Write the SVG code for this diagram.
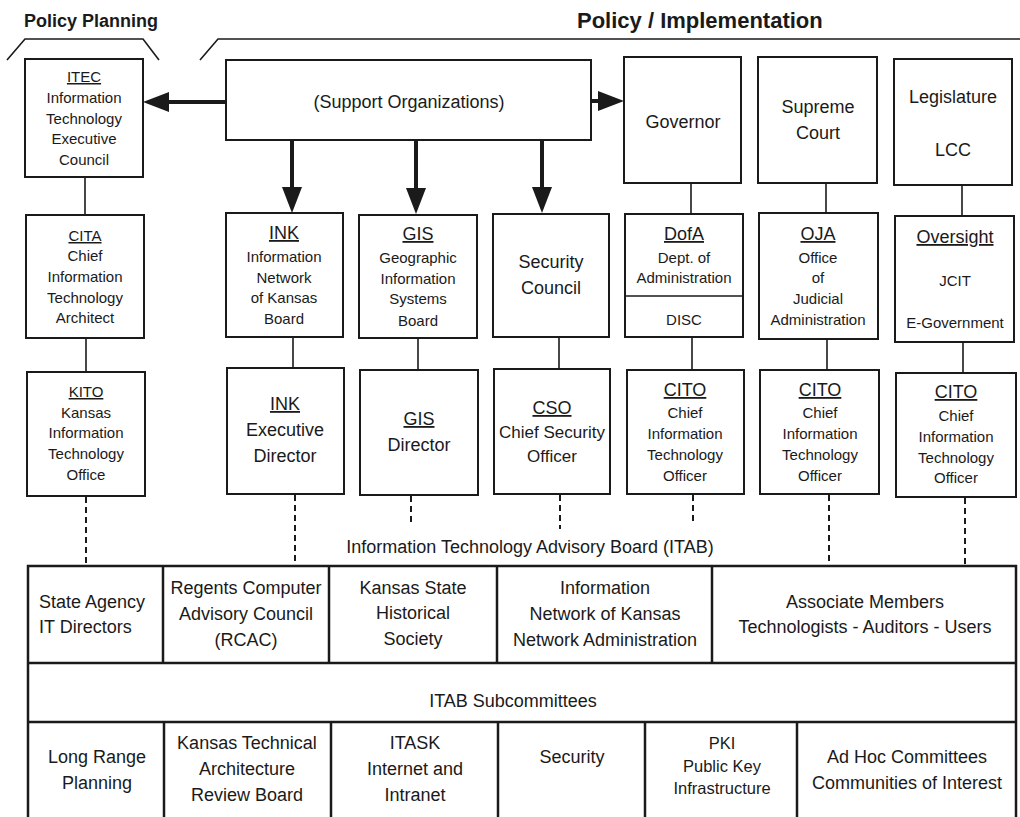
<svg xmlns="http://www.w3.org/2000/svg" width="1020" height="817" viewBox="0 0 1020 817">
<style>
text{font-family:"Liberation Sans",Arial,sans-serif;fill:#1a1a1a;text-anchor:middle;font-size:15px}
.b{font-size:18px}
.m{font-size:16.5px}
.h{font-weight:bold;text-anchor:start}
.u{text-decoration:underline}
.box{fill:#fff;stroke:#1a1a1a;stroke-width:2}
.ln{stroke:#1a1a1a;stroke-width:1.6;fill:none}
.dl{stroke:#1a1a1a;stroke-width:2;stroke-dasharray:6 4;fill:none}
.ar{stroke:#1a1a1a;stroke-width:4;fill:none}
.tb{fill:none;stroke:#1a1a1a;stroke-width:2.5}
</style>
<defs>
<marker id="ah" viewBox="0 0 26 20" refX="0" refY="10" markerWidth="26" markerHeight="20" markerUnits="userSpaceOnUse" orient="auto">
<path d="M0,0 L26,10 L0,20 z" fill="#1a1a1a"/>
</marker>
</defs>
<rect width="1020" height="817" fill="#fff"/>

<g id="headers">
<text class="h" x="24" y="27" style="font-size:18px">Policy Planning</text>
<text class="h" x="577" y="28" style="font-size:22px">Policy / Implementation</text>
<polyline class="ln" points="7,60 25,39 143,39 159,60"/>
<polyline class="ln" points="200,60 218,39 1020,39"/>
</g>

<g id="connectors">
<line class="ar" x1="226" y1="102" x2="169" y2="102" marker-end="url(#ah)"/>
<line class="ar" x1="591" y1="101" x2="598" y2="101" marker-end="url(#ah)"/>
<line class="ar" x1="292" y1="140" x2="292" y2="187" marker-end="url(#ah)"/>
<line class="ar" x1="416" y1="140" x2="416" y2="188" marker-end="url(#ah)"/>
<line class="ar" x1="542" y1="140" x2="542" y2="187" marker-end="url(#ah)"/>
<line class="ln" x1="85" y1="177" x2="85" y2="215"/>
<line class="ln" x1="86" y1="338" x2="86" y2="372"/>
<line class="ln" x1="293" y1="337" x2="293" y2="368"/>
<line class="ln" x1="418" y1="338" x2="418" y2="370"/>
<line class="ln" x1="559" y1="337" x2="559" y2="369"/>
<line class="ln" x1="691" y1="183" x2="691" y2="214"/>
<line class="ln" x1="692" y1="337" x2="692" y2="370"/>
<line class="ln" x1="826" y1="183" x2="826" y2="213"/>
<line class="ln" x1="827" y1="339" x2="827" y2="370"/>
<line class="ln" x1="962" y1="185" x2="962" y2="216"/>
<line class="ln" x1="963" y1="342" x2="963" y2="373"/>
<line class="dl" x1="86" y1="497" x2="86" y2="566"/>
<line class="dl" x1="295" y1="495" x2="295" y2="566"/>
<line class="dl" x1="411" y1="496" x2="411" y2="522"/>
<line class="dl" x1="560" y1="495" x2="560" y2="529"/>
<line class="dl" x1="693" y1="495" x2="693" y2="525"/>
<line class="dl" x1="829" y1="495" x2="829" y2="566"/>
<line class="dl" x1="965" y1="498" x2="965" y2="566"/>
</g>

<g id="itec">
<rect class="box" x="25" y="59" width="118" height="118"/>
<text x="84" y="82" class="u">ITEC</text>
<text x="84" y="103">Information</text>
<text x="84" y="124">Technology</text>
<text x="84" y="144">Executive</text>
<text x="84" y="165">Council</text>
</g>
<g id="support">
<rect class="box" x="226" y="60" width="365" height="80"/>
<text x="409" y="108" class="b">(Support Organizations)</text>
</g>
<g id="governor">
<rect class="box" x="624" y="57" width="117" height="126"/>
<text x="683" y="128" class="b">Governor</text>
</g>
<g id="supreme">
<rect class="box" x="758" y="57" width="119" height="126"/>
<text x="818" y="113" class="b">Supreme</text>
<text x="818" y="139" class="b">Court</text>
</g>
<g id="legislature">
<rect class="box" x="894" y="59" width="118" height="126"/>
<text x="953" y="103" class="b">Legislature</text>
<text x="953" y="156" class="b">LCC</text>
</g>

<g id="cita">
<rect class="box" x="26" y="215" width="118" height="123"/>
<text x="85" y="241" class="u">CITA</text>
<text x="85" y="261">Chief</text>
<text x="85" y="282">Information</text>
<text x="85" y="303">Technology</text>
<text x="85" y="323">Architect</text>
</g>
<g id="ink">
<rect class="box" x="226" y="213" width="117" height="124"/>
<text x="284" y="239" class="b u">INK</text>
<text x="284" y="262">Information</text>
<text x="284" y="283">Network</text>
<text x="284" y="303">of Kansas</text>
<text x="284" y="324">Board</text>
</g>
<g id="gis">
<rect class="box" x="359" y="215" width="118" height="123"/>
<text x="418" y="240" class="b u">GIS</text>
<text x="418" y="263">Geographic</text>
<text x="418" y="284">Information</text>
<text x="418" y="304">Systems</text>
<text x="418" y="326">Board</text>
</g>
<g id="seccouncil">
<rect class="box" x="493" y="214" width="116" height="123"/>
<text x="551" y="268" class="b">Security</text>
<text x="551" y="294" class="b">Council</text>
</g>
<g id="dofa">
<rect class="box" x="625" y="214" width="118" height="123"/>
<line class="ln" x1="625" y1="296" x2="743" y2="296"/>
<text x="684" y="240" class="b u">DofA</text>
<text x="684" y="263">Dept. of</text>
<text x="684" y="283">Administration</text>
<text x="684" y="325">DISC</text>
</g>
<g id="oja">
<rect class="box" x="759" y="213" width="119" height="126"/>
<text x="818" y="240" class="b u">OJA</text>
<text x="818" y="263">Office</text>
<text x="818" y="283">of</text>
<text x="818" y="304">Judicial</text>
<text x="818" y="325">Administration</text>
</g>
<g id="oversight">
<rect class="box" x="895" y="216" width="119" height="126"/>
<text x="955" y="243" class="b u">Oversight</text>
<text x="955" y="286">JCIT</text>
<text x="955" y="328">E-Government</text>
</g>

<g id="kito">
<rect class="box" x="27" y="372" width="118" height="124"/>
<text x="86" y="397" class="u">KITO</text>
<text x="86" y="418">Kansas</text>
<text x="86" y="438">Information</text>
<text x="86" y="459">Technology</text>
<text x="86" y="480">Office</text>
</g>
<g id="inkexec">
<rect class="box" x="227" y="368" width="117" height="126"/>
<text x="285" y="410" class="b u">INK</text>
<text x="285" y="436" class="b">Executive</text>
<text x="285" y="462" class="b">Director</text>
</g>
<g id="gisdir">
<rect class="box" x="360" y="370" width="118" height="125"/>
<text x="419" y="425" class="b u">GIS</text>
<text x="419" y="451" class="b">Director</text>
</g>
<g id="cso">
<rect class="box" x="494" y="369" width="116" height="125"/>
<text x="552" y="414" class="b u">CSO</text>
<text x="552" y="438" style="font-size:17px">Chief Security</text>
<text x="552" y="462" style="font-size:17px">Officer</text>
</g>
<g id="cito-gov">
<rect class="box" x="627" y="370" width="117" height="124"/>
<text x="685" y="396" class="b u">CITO</text>
<text x="685" y="418">Chief</text>
<text x="685" y="439">Information</text>
<text x="685" y="460">Technology</text>
<text x="685" y="481">Officer</text>
</g>
<g id="cito-court">
<rect class="box" x="760" y="370" width="119" height="124"/>
<text x="820" y="396" class="b u">CITO</text>
<text x="820" y="418">Chief</text>
<text x="820" y="439">Information</text>
<text x="820" y="460">Technology</text>
<text x="820" y="481">Officer</text>
</g>
<g id="cito-leg">
<rect class="box" x="896" y="373" width="120" height="124"/>
<text x="956" y="398" class="b u">CITO</text>
<text x="956" y="421">Chief</text>
<text x="956" y="442">Information</text>
<text x="956" y="463">Technology</text>
<text x="956" y="483">Officer</text>
</g>

<g id="itab">
<text x="530" y="553" class="b">Information Technology Advisory Board (ITAB)</text>
<rect class="tb" x="28" y="566" width="988" height="260"/>
<line class="tb" x1="28" y1="663" x2="1016" y2="663"/>
<line class="tb" x1="28" y1="722" x2="1016" y2="722"/>
<line class="tb" x1="163" y1="566" x2="163" y2="663"/>
<line class="tb" x1="329" y1="566" x2="329" y2="663"/>
<line class="tb" x1="497" y1="566" x2="497" y2="663"/>
<line class="tb" x1="712" y1="566" x2="712" y2="663"/>
<line class="tb" x1="164" y1="722" x2="164" y2="817"/>
<line class="tb" x1="331" y1="722" x2="331" y2="817"/>
<line class="tb" x1="498" y1="722" x2="498" y2="817"/>
<line class="tb" x1="645" y1="722" x2="645" y2="817"/>
<line class="tb" x1="797" y1="722" x2="797" y2="817"/>
</g>
<g id="row1">
<text x="39" y="608" class="b" style="text-anchor:start">State Agency</text>
<text x="39" y="633" class="b" style="text-anchor:start">IT Directors</text>
<text x="246" y="594" class="b">Regents Computer</text>
<text x="246" y="620" class="b">Advisory Council</text>
<text x="246" y="646" class="b">(RCAC)</text>
<text x="413" y="594" class="b">Kansas State</text>
<text x="413" y="619" class="b">Historical</text>
<text x="413" y="645" class="b">Society</text>
<text x="605" y="594" class="b">Information</text>
<text x="605" y="620" class="b">Network of Kansas</text>
<text x="605" y="646" class="b">Network Administration</text>
<text x="865" y="608" class="b">Associate Members</text>
<text x="865" y="633" class="b">Technologists - Auditors - Users</text>
</g>
<g id="row2">
<text x="513" y="707" class="b">ITAB Subcommittees</text>
</g>
<g id="row3">
<text x="97" y="763" class="b">Long Range</text>
<text x="97" y="789" class="b">Planning</text>
<text x="247" y="749" class="b">Kansas Technical</text>
<text x="247" y="775" class="b">Architecture</text>
<text x="247" y="801" class="b">Review Board</text>
<text x="415" y="749" class="b">ITASK</text>
<text x="415" y="775" class="b">Internet and</text>
<text x="415" y="801" class="b">Intranet</text>
<text x="572" y="763" class="b">Security</text>
<text x="722" y="749" class="m">PKI</text>
<text x="722" y="772" class="m">Public Key</text>
<text x="722" y="794" class="m">Infrastructure</text>
<text x="907" y="763" class="b">Ad Hoc Committees</text>
<text x="907" y="789" class="b">Communities of Interest</text>
</g>
</svg>
